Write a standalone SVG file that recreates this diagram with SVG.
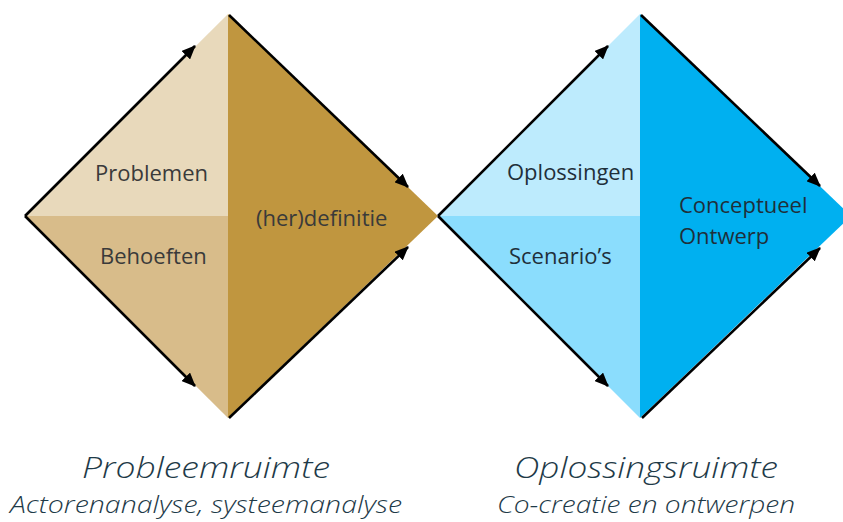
<svg xmlns="http://www.w3.org/2000/svg" width="843" height="522" viewBox="0 0 843 522">
<defs>
<marker id="ah" markerUnits="userSpaceOnUse" markerWidth="14" markerHeight="12" refX="13" refY="6" orient="auto">
<path d="M0,0 L14,6 L0,12 z" fill="#000"/>
</marker>
<style>
.lbl{font-family:"Open Sans","Noto Sans","Liberation Sans",sans-serif;font-size:22px;fill:#3a3a3a}
.lblb{font-family:"Open Sans","Noto Sans","Liberation Sans",sans-serif;font-size:22px;fill:#1f2f3a}
.ttl{font-family:"Open Sans","Noto Sans","Liberation Sans",sans-serif;font-style:italic;font-weight:300;font-size:29px;fill:#1e3a48}
.sub{font-family:"Open Sans","Noto Sans","Liberation Sans",sans-serif;font-style:italic;font-weight:300;font-size:23px;fill:#1e3a48}
.arr{stroke:#000;stroke-width:2.6;fill:none;marker-end:url(#ah)}
</style>
</defs>
<rect width="843" height="522" fill="#fff"/>
<g id="problemen">
<polygon points="25,216 228,14 228,216" fill="#E8D9BB"/>
<text class="lbl" x="95" y="181">Problemen</text>
</g>
<g id="behoeften">
<polygon points="25,216 228,216 228,418" fill="#D8BC8A"/>
<text class="lbl" x="100" y="264">Behoeften</text>
</g>
<g id="herdefinitie">
<polygon points="228,14 438,216 228,418" fill="#C0963F"/>
<text class="lbl" x="256" y="226">(her)definitie</text>
</g>
<g id="oplossingen">
<polygon points="438,216 640,14 640,216" fill="#BDEBFD"/>
<text class="lblb" x="507" y="180">Oplossingen</text>
</g>
<g id="scenarios">
<polygon points="438,216 640,216 640,418" fill="#8BDDFD"/>
<text class="lblb" x="509" y="264">Scenario’s</text>
</g>
<g id="conceptueel-ontwerp">
<polygon points="640,14 851,216 640,418" fill="#00B0F0"/>
<text class="lblb" x="679" y="213">Conceptueel</text>
<text class="lblb" x="679" y="244">Ontwerp</text>
</g>
<g id="connectors">
<line class="arr" x1="25" y1="216" x2="195" y2="46"/>
<line class="arr" x1="25" y1="216" x2="195" y2="386"/>
<line class="arr" x1="229" y1="15" x2="408" y2="187"/>
<line class="arr" x1="229" y1="418" x2="408" y2="247"/>
<line class="arr" x1="438" y1="216" x2="608" y2="46"/>
<line class="arr" x1="438" y1="216" x2="608" y2="386"/>
<line class="arr" x1="641" y1="15" x2="820" y2="186"/>
<line class="arr" x1="642" y1="418" x2="820" y2="248"/>
</g>
<g id="probleemruimte">
<text class="ttl" x="206" y="478" text-anchor="middle" textLength="248" lengthAdjust="spacingAndGlyphs">Probleemruimte</text>
<text class="sub" x="206" y="513" text-anchor="middle" textLength="392" lengthAdjust="spacingAndGlyphs">Actorenanalyse, systeemanalyse</text>
</g>
<g id="oplossingsruimte">
<text class="ttl" x="646" y="478" text-anchor="middle" textLength="264" lengthAdjust="spacingAndGlyphs">Oplossingsruimte</text>
<text class="sub" x="646" y="513" text-anchor="middle" textLength="298" lengthAdjust="spacingAndGlyphs">Co-creatie en ontwerpen</text>
</g>
</svg>
